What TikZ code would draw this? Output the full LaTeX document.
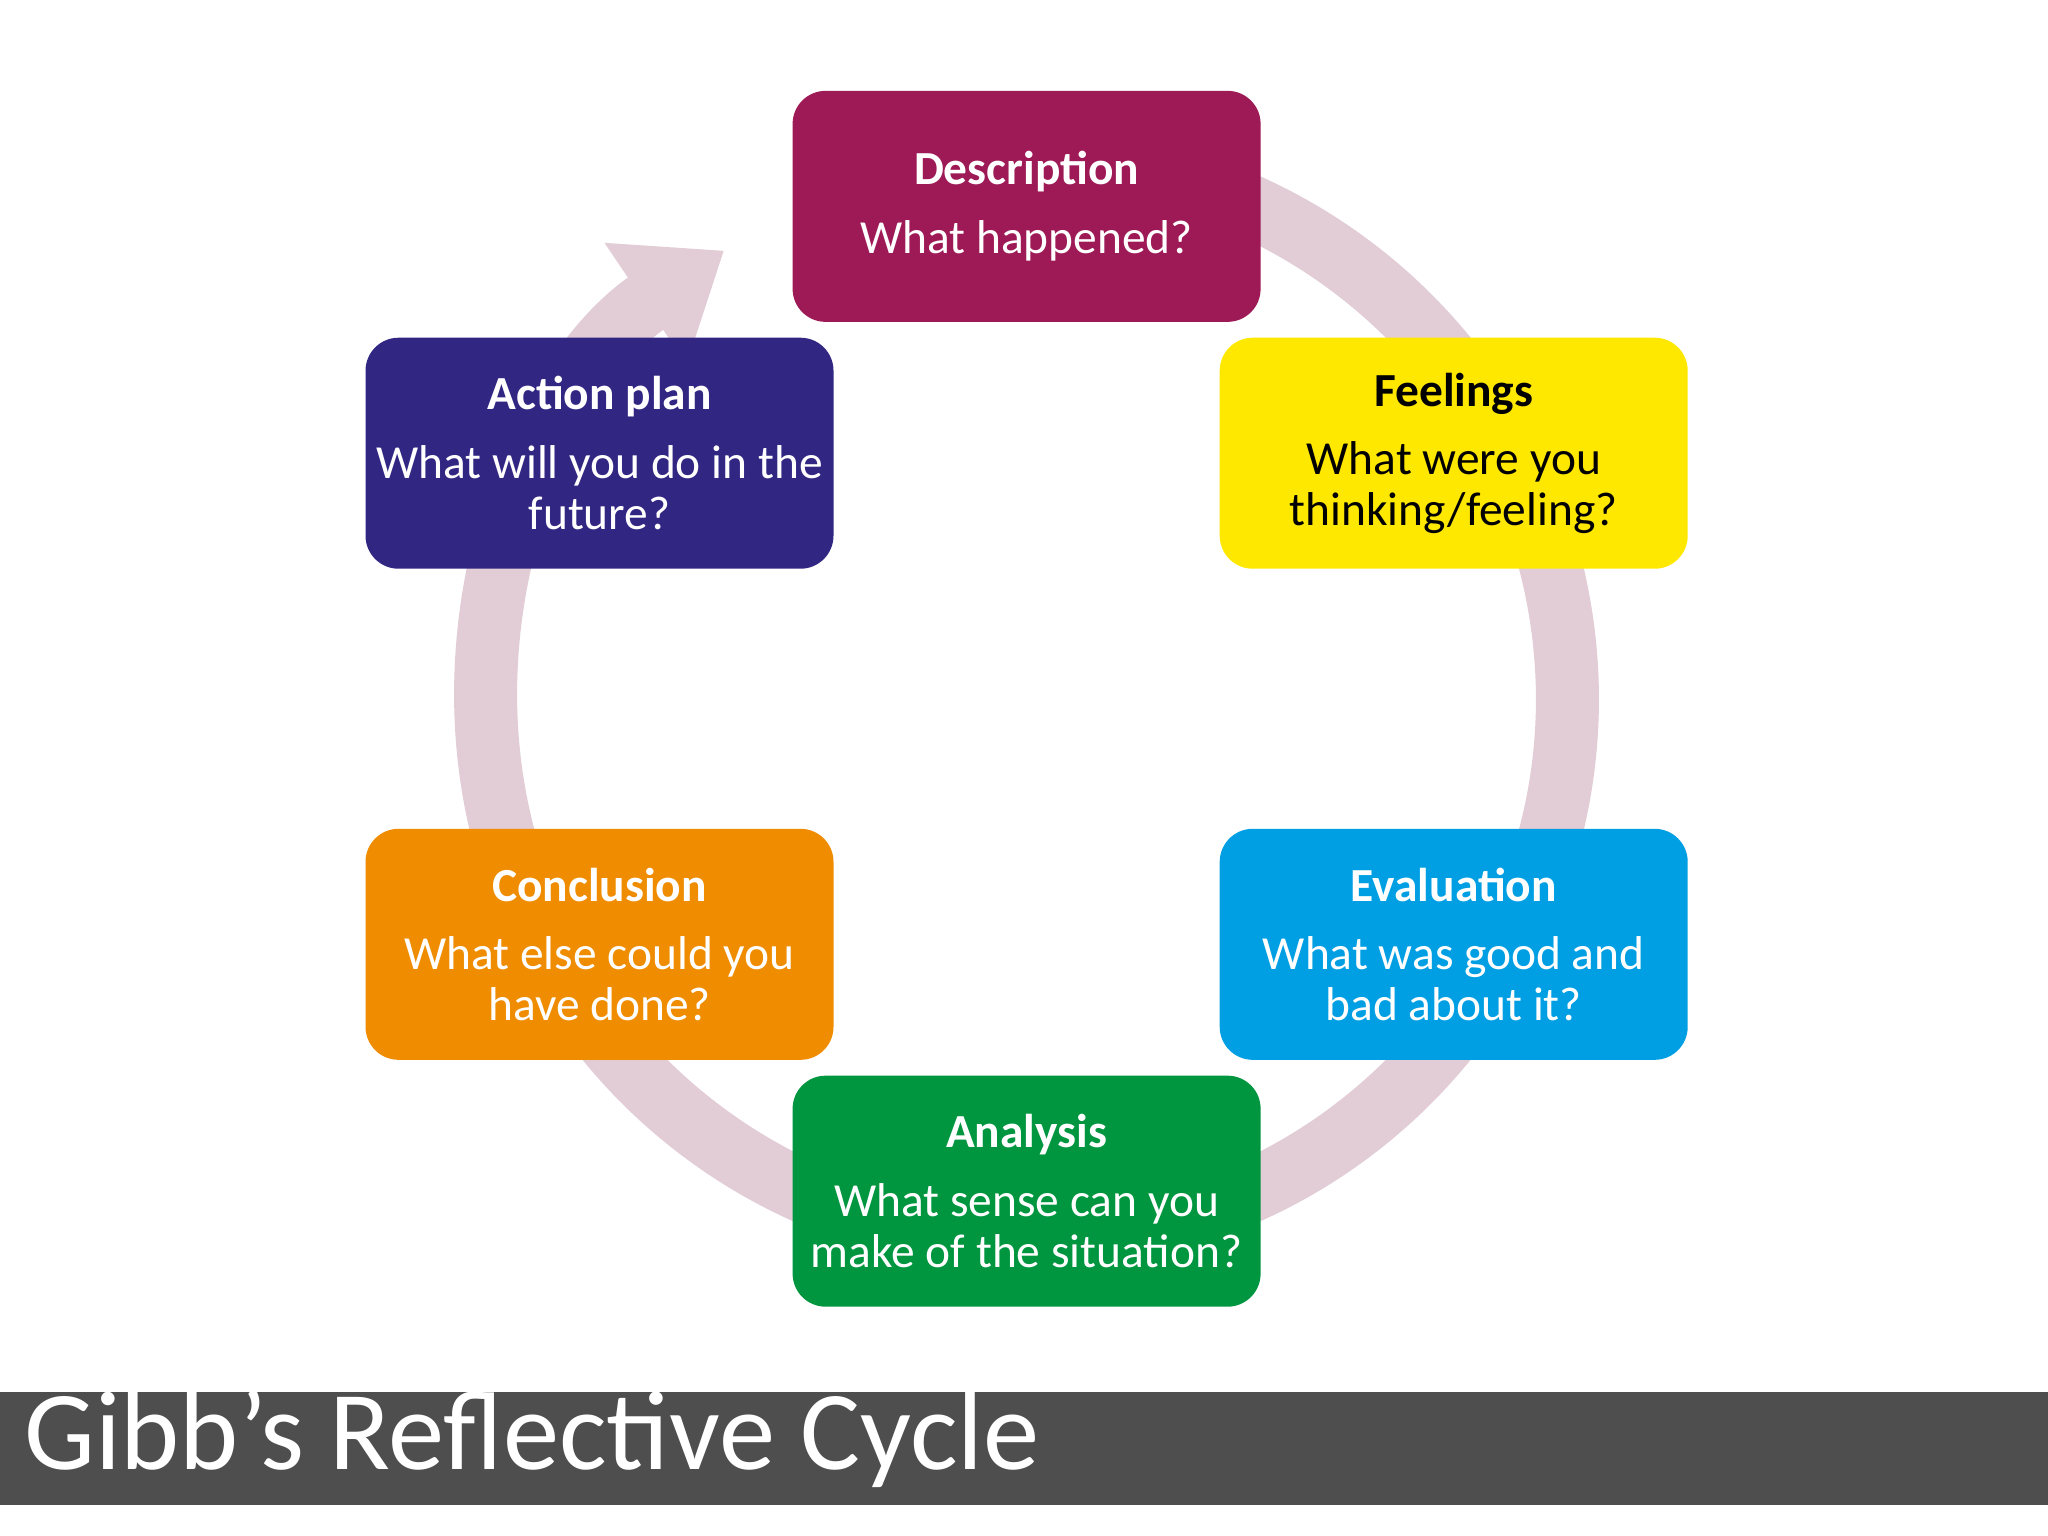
\documentclass[tikz,border=0pt]{standalone}
\usepackage{fontspec}
\setmainfont{Carlito}
\usetikzlibrary{arrows.meta}
\definecolor{cdesc}{HTML}{9E1A56}
\definecolor{cfeel}{HTML}{FFE800}
\definecolor{ceval}{HTML}{009FE3}
\definecolor{cana}{HTML}{009640}
\definecolor{ccon}{HTML}{EF8C00}
\definecolor{cact}{HTML}{312783}
\definecolor{ring}{HTML}{E2CCD5}
\definecolor{bar}{HTML}{4F4E4F}
\begin{document}
\begin{tikzpicture}[x=0.01306cm,y=-0.01306cm,
  box/.style={rounded corners=0.33cm,minimum width=4.68cm,minimum height=2.31cm,inner sep=0pt,align=center,text=white,font=\fontsize{13.5}{14.5}\selectfont},
  ttl/.style={}]
\useasboundingbox[fill=white] (0,0) rectangle (1568,1176);
\draw[ring,line width=0.63cm,-{Triangle[width=1.4cm,length=0.95cm]}] (786,535) ++(-100:414) arc[start angle=-100,end angle=236,radius=414];
\node[box,fill=cdesc] (d) at (786,158) {\textbf{Description}\\[5pt]What happened?};
\node[box,fill=cfeel,text=black] (f) at (1113,347) {\textbf{Feelings}\\[5pt]What were you\\thinking/feeling?};
\node[box,fill=ceval] (e) at (1113,723) {\textbf{Evaluation}\\[5pt]What was good and\\bad about it?};
\node[box,fill=cana] (a) at (786,912) {\textbf{Analysis}\\[5pt]What sense can you\\make of the situation?};
\node[box,fill=ccon] (c) at (459,723) {\textbf{Conclusion}\\[5pt]What else could you\\have done?};
\node[box,fill=cact] (p) at (459,347) {\textbf{Action plan}\\[5pt]What will you do in the\\future?};
\fill[bar] (0,1066) rectangle (1568,1152);
\node[anchor=base west,text=white,inner sep=0pt,font=\fontsize{32}{36}\selectfont] (t) at (18,1125) {Gibb’s Reflective Cycle};
\end{tikzpicture}
\end{document}
